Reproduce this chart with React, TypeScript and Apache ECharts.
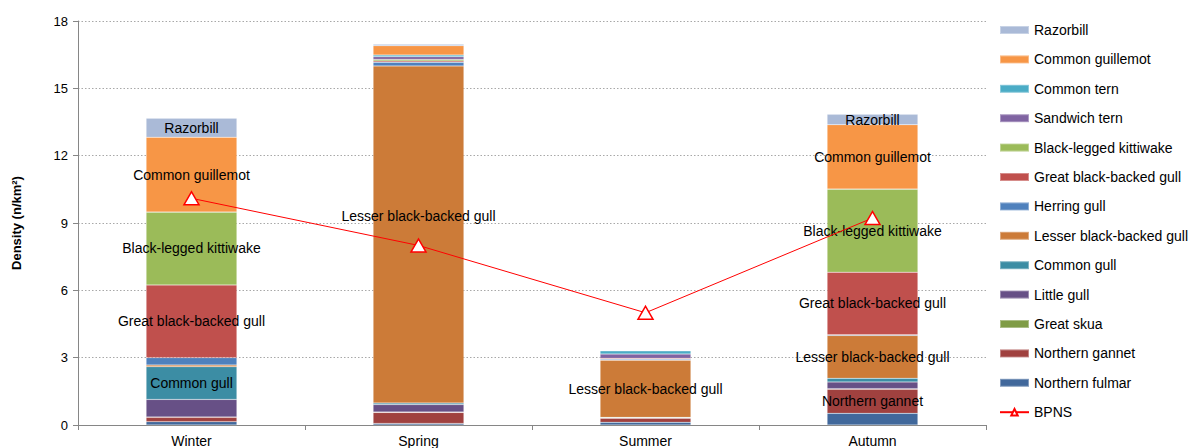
import React, { useEffect, useRef } from "react";
import * as echarts from "echarts";

const seasons = ["Winter", "Spring", "Summer", "Autumn"];

// Stack order bottom -> top
const northernFulmar = [0.15, 0.07, 0.12, 0.52];
const northernGannet = [0.19, 0.49, 0.18, 1.07];
const greatSkua = [0.02, 0.02, 0.03, 0.03];
const littleGull = [0.78, 0.33, 0.01, 0.3];
const commonGull = [1.46, 0.07, 0.0, 0.16];
const lesserBlackBackedGull = [0.07, 15.02, 2.55, 1.91];
const herringGull = [0.33, 0.16, 0.04, 0.03];
const greatBlackBackedGull = [3.24, 0.06, 0.04, 2.79];
const blackLeggedKittiwake = [3.25, 0.07, 0.0, 3.7];
const sandwichTern = [0.0, 0.12, 0.19, 0.0];
const commonTern = [0.0, 0.07, 0.15, 0.0];
const commonGuillemot = [3.33, 0.42, 0.0, 2.87];
const razorbill = [0.85, 0.06, 0.0, 0.46];
const bpns = [10.1, 8.0, 5.0, 9.22];

const yTicks = { min: 0, max: 18, interval: 3 };

// which segments show their name as a label (per season)
const labelled: Record<string, boolean[]> = {
  "Northern fulmar": [false, false, false, false],
  "Northern gannet": [false, false, false, true],
  "Great skua": [false, false, false, false],
  "Little gull": [false, false, false, false],
  "Common gull": [true, false, false, false],
  "Lesser black-backed gull": [false, true, true, true],
  "Herring gull": [false, false, false, false],
  "Great black-backed gull": [true, false, false, true],
  "Black-legged kittiwake": [true, false, false, true],
  "Sandwich tern": [false, false, false, false],
  "Common tern": [false, false, false, false],
  "Common guillemot": [true, false, false, true],
  Razorbill: [true, false, false, true],
};

const species: { name: string; data: number[]; color: string }[] = [
  { name: "Northern fulmar", data: northernFulmar, color: "#41689B" },
  { name: "Northern gannet", data: northernGannet, color: "#A0413F" },
  { name: "Great skua", data: greatSkua, color: "#7F9C46" },
  { name: "Little gull", data: littleGull, color: "#675086" },
  { name: "Common gull", data: commonGull, color: "#3C8DA4" },
  { name: "Lesser black-backed gull", data: lesserBlackBackedGull, color: "#CC7B38" },
  { name: "Herring gull", data: herringGull, color: "#4F81BD" },
  { name: "Great black-backed gull", data: greatBlackBackedGull, color: "#C0504D" },
  { name: "Black-legged kittiwake", data: blackLeggedKittiwake, color: "#9BBB59" },
  { name: "Sandwich tern", data: sandwichTern, color: "#8064A2" },
  { name: "Common tern", data: commonTern, color: "#4BACC6" },
  { name: "Common guillemot", data: commonGuillemot, color: "#F79646" },
  { name: "Razorbill", data: razorbill, color: "#AABAD7" },
];

const FONT = "'Liberation Sans', Arial, sans-serif";

export default function App() {
  const ref = useRef<HTMLDivElement>(null);
  useEffect(() => {
    if (!ref.current) return;
    const chart = echarts.init(ref.current, undefined, { renderer: "svg" });

    const barSeries = species.map((s) => ({
      name: s.name,
      type: "bar",
      stack: "total",
      barWidth: "40%",
      itemStyle: { color: s.color, borderColor: "rgba(255,255,255,0.35)", borderWidth: 0.5 },
      emphasis: { disabled: true },
      data: s.data.map((v, i) => {
        const show = labelled[s.name][i];
        const isSpringLbbg = s.name === "Lesser black-backed gull" && i === 1;
        return {
          value: v,
          label: {
            show,
            position: "inside",
            formatter: s.name,
            color: "#000",
            fontSize: 14,
            fontFamily: FONT,
            offset: isSpringLbbg ? [0, -18] : [0, 0],
          },
        };
      }),
    }));

    const legendData = [
      ...species
        .slice()
        .reverse()
        .map((s) => ({ name: s.name, icon: "rect" })),
      { name: "BPNS" },
    ];

    chart.setOption({
      animation: false,
      textStyle: { fontFamily: FONT },
      grid: { left: 78, right: 202, top: 21, bottom: 23, containLabel: false },
      legend: {
        orient: "vertical",
        left: 999,
        top: 22,
        padding: 0,
        itemWidth: 29,
        itemHeight: 8,
        itemGap: 13.4,
        data: legendData,
        textStyle: { fontSize: 14, color: "#000", fontFamily: FONT, lineHeight: 16 },
      },
      xAxis: {
        type: "category",
        data: seasons,
        axisLine: { lineStyle: { color: "#868686" } },
        axisTick: { show: true, length: 5, lineStyle: { color: "#868686" } },
        axisLabel: { color: "#000", fontSize: 14, fontFamily: FONT, margin: 9 },
      },
      yAxis: {
        type: "value",
        min: yTicks.min,
        max: yTicks.max,
        interval: yTicks.interval,
        name: "Density (n/km²)",
        nameLocation: "middle",
        nameGap: 55,
        nameTextStyle: { fontWeight: "bold", fontSize: 13, color: "#000", fontFamily: FONT },
        axisLine: { show: true, lineStyle: { color: "#868686" } },
        axisTick: { show: true, length: 5, lineStyle: { color: "#868686" } },
        axisLabel: { color: "#000", fontSize: 13, fontFamily: FONT, margin: 10 },
        splitLine: { show: true, lineStyle: { color: "#A8A8A8", type: [1.5, 2], width: 1 } },
      },
      series: [
        ...barSeries,
        {
          name: "BPNS",
          type: "line",
          data: bpns,
          symbol: "triangle",
          symbolSize: [15, 13],
          itemStyle: { color: "#FFFFFF", borderColor: "#FF0000", borderWidth: 1.5 },
          lineStyle: { color: "#FF0000", width: 1 },
          emphasis: { disabled: true },
          z: 10,
        },
      ],
    });
    return () => chart.dispose();
  }, []);

  return <div ref={ref} style={{ width: 1188, height: 448, position: "absolute", left: 0, top: 0 }} />;
}
